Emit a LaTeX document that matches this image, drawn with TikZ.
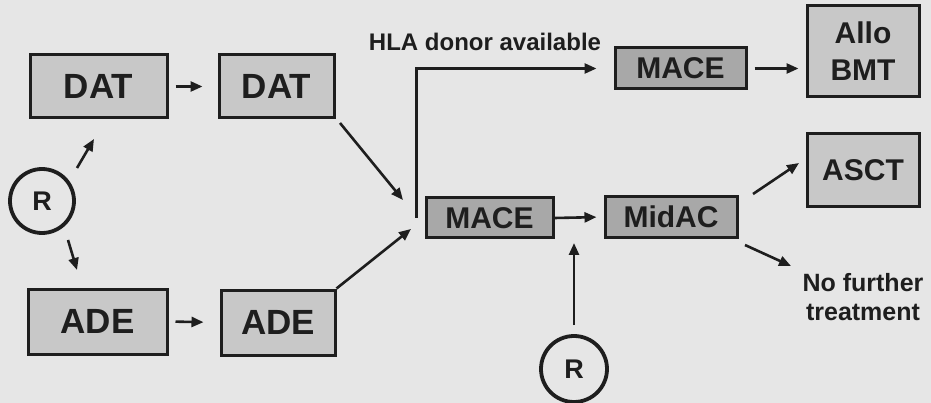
\documentclass[tikz,border=0pt]{standalone}
\usepackage{fontspec}
\setmainfont{Liberation Sans}
\usetikzlibrary{arrows.meta}
\definecolor{bg}{RGB}{230,230,230}
\definecolor{lightbox}{RGB}{200,200,200}
\definecolor{darkbox}{RGB}{168,168,168}
\definecolor{ink}{RGB}{30,30,30}
\tikzset{
  box/.style={draw=ink, line width=3pt, fill=lightbox, inner sep=0pt, text=ink, font=\bfseries},
  bigbox/.style={box, font=\fontsize{35}{40}\selectfont\bfseries},
  medbox/.style={box, font=\fontsize{30}{37}\selectfont\bfseries, align=center},
  darkb/.style={medbox, fill=darkbox},
  rnode/.style={draw=ink, line width=3.8pt, circle, minimum size=64pt, inner sep=0pt, text=ink, font=\fontsize{27}{30}\selectfont\bfseries},
  lbl/.style={text=ink, font=\fontsize{24}{29}\selectfont\bfseries, align=center, inner sep=0pt},
  arr/.style={draw=ink, line width=2.6pt, -{Triangle[length=12pt,width=10pt]}},
}
\begin{document}
\begin{tikzpicture}[x=1pt,y=-1pt]
\fill[bg] (0,0) rectangle (931,403);
\useasboundingbox (0,0) rectangle (931,403);

\node[bigbox, minimum width=137pt, minimum height=63pt] (dat1) at (98.5,86.5) {DAT};
\node[bigbox, minimum width=115pt, minimum height=63pt] (dat2) at (276.5,86.5) {DAT};
\node[bigbox, minimum width=139pt, minimum height=65pt] (ade1) at (97.5,321.5) {ADE};
\node[bigbox, minimum width=114pt, minimum height=65pt] (ade2) at (278,322.5) {ADE};
\node[rnode] (r1) at (42,201) {R};
\node[darkb, minimum width=127pt, minimum height=40pt] (mace1) at (489.5,218) {MACE};
\node[darkb, minimum width=132pt, minimum height=41pt] (midac) at (671,217) {MidAC};
\node[darkb, minimum width=131pt, minimum height=41pt] (mace2) at (680.5,68.5) {MACE};
\node[medbox, minimum width=112pt, minimum height=91pt] (allo) at (863,51.5) {Allo\\BMT};
\node[medbox, minimum width=112pt, minimum height=73pt] (asct) at (863,170.5) {ASCT};
\node[rnode, minimum size=66pt] (r2) at (574,369) {R};
\node[lbl] (hla) at (485,42) {HLA donor available};
\node[lbl, font=\fontsize{25}{29}\selectfont\bfseries] (nf) at (863,297) {No further\\treatment};

% free ends
\coordinate (j1) at (403,200);
\coordinate (j2) at (411,229);
\coordinate (r1a) at (77,168);
\coordinate (r1ae) at (94,139);
\coordinate (r1b) at (68,240);
\coordinate (r1be) at (77,270);
\coordinate (d2s) at (340,123);
\coordinate (ascte) at (799,163);
\coordinate (mida) at (753,194);
\coordinate (midb) at (745,245);
\coordinate (nfe) at (791,266);
\coordinate (r2top) at (574,325);
\coordinate (r2e) at (574,243);

\draw[arr, shorten <=7pt, shorten >=15pt] (dat1.east) -- (dat2.west);
\draw[arr, shorten <=7pt, shorten >=16pt] (ade1.east) -- (ade2.west);
\draw[arr] (r1a) -- (r1ae);
\draw[arr] (r1b) -- (r1be);
\draw[arr] (d2s) -- (j1);
\draw[arr] (ade2.north east) -- (j2);
\draw[arr, shorten <=8pt, shorten >=17pt] (mace1.west) -- ++(-8,0) |- (mace2.west);
\draw[arr, shorten >=7pt] (mace1.east) -- (midac.west);
\draw[arr, shorten <=7pt, shorten >=7pt] (mace2.east) -- (allo.west |- mace2.east);
\draw[arr] (mida) -- (ascte);
\draw[arr] (midb) -- (nfe);
\draw[arr] (r2top) -- (r2e);
\end{tikzpicture}
\end{document}
